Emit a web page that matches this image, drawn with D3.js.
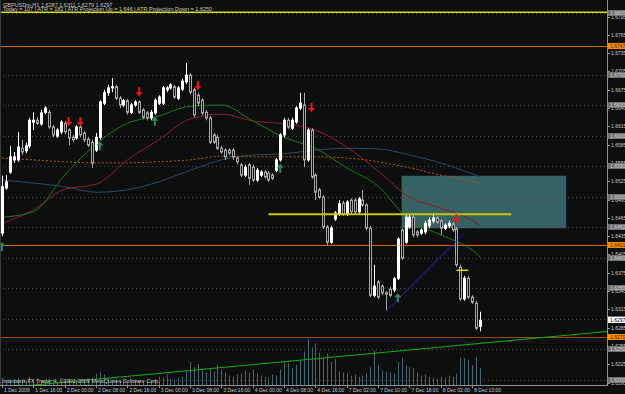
<!DOCTYPE html>
<html>
<head>
<meta charset="utf-8"/>
<script src="https://d3js.org/d3.v7.min.js"></script>
<style>
    body { margin: 0; background: #0d0f0f; width: 625px; height: 394px; overflow: hidden;
           font-family: "Liberation Sans", Arial, sans-serif; }
    svg { display: block; }
    .lbl { fill: #c8c8c8; font-size: 5px; }
</style>
</head>
<body>
<svg id="chart" width="625" height="394"></svg>
<script>
// GBPUSDm H1 candles
var opens = [1.6440,1.6514,1.6540,1.6560,1.6560,1.6579,1.6575,1.6583,1.6622,1.6625,
1.6619,1.6638,1.6638,1.6614,1.6599,1.6606,1.6620,1.6609,1.6597,1.6596,
1.6614,1.6604,1.6594,1.6589,1.6576,1.6597,1.6653,1.6670,1.6678,1.6680,
1.6661,1.6650,1.6657,1.6638,1.6650,1.6655,1.6642,1.6637,1.6629,1.6637,
1.6653,1.6653,1.6675,1.6678,1.6680,1.6661,1.6676,1.6688,1.6699,1.6675,
1.6666,1.6658,1.6638,1.6629,1.6601,1.6597,1.6579,1.6576,1.6576,1.6576,
1.6563,1.6552,1.6535,1.6552,1.6548,1.6527,1.6535,1.6540,1.6538,1.6535,
1.6543,1.6560,1.6601,1.6625,1.6612,1.6622,1.6645,1.6650,1.6560,1.6609,
1.6535,1.6511,1.6499,1.6450,1.6425,1.6463,1.6471,1.6489,1.6471,1.6494,
1.6494,1.6475,1.6494,1.6486,1.6448,1.6338,1.6360,1.6353,1.6342,1.6348,
1.6347,1.6366,1.6445,1.6425,1.6450,1.6466,1.6442,1.6440,1.6442,1.6452,
1.6460,1.6465,1.6460,1.6448,1.6452,1.6455,1.6447,1.6384,1.6332,1.6366,
1.6335,1.6325,1.6287];
var highs = [1.6534,1.6535,1.6583,1.6573,1.6606,1.6593,1.6588,1.6629,1.6638,1.6630,
1.6642,1.6648,1.6642,1.6617,1.6612,1.6625,1.6624,1.6612,1.6601,1.6617,
1.6617,1.6607,1.6597,1.6593,1.6604,1.6658,1.6675,1.6683,1.6694,1.6683,
1.6665,1.6660,1.6660,1.6653,1.6658,1.6658,1.6645,1.6640,1.6642,1.6661,
1.6666,1.6681,1.6681,1.6686,1.6683,1.6681,1.6693,1.6719,1.6702,1.6678,
1.6670,1.6661,1.6642,1.6632,1.6604,1.6601,1.6583,1.6579,1.6579,1.6579,
1.6566,1.6555,1.6552,1.6555,1.6552,1.6547,1.6543,1.6543,1.6542,1.6538,
1.6563,1.6604,1.6629,1.6629,1.6629,1.6648,1.6670,1.6670,1.6612,1.6612,
1.6538,1.6514,1.6502,1.6453,1.6452,1.6476,1.6494,1.6493,1.6494,1.6497,
1.6497,1.6499,1.6511,1.6489,1.6452,1.6388,1.6363,1.6356,1.6345,1.6352,
1.6368,1.6433,1.6448,1.6470,1.6470,1.6470,1.6445,1.6448,1.6460,1.6466,
1.6473,1.6468,1.6463,1.6456,1.6460,1.6458,1.6450,1.6388,1.6370,1.6370,
1.6338,1.6329,1.6311];
var lows = [1.6435,1.6511,1.6537,1.6555,1.6557,1.6568,1.6571,1.6579,1.6609,1.6617,
1.6616,1.6635,1.6611,1.6597,1.6596,1.6602,1.6602,1.6584,1.6589,1.6593,
1.6597,1.6589,1.6581,1.6547,1.6573,1.6593,1.6650,1.6665,1.6671,1.6658,
1.6645,1.6647,1.6634,1.6635,1.6647,1.6635,1.6627,1.6625,1.6625,1.6634,
1.6650,1.6650,1.6671,1.6675,1.6660,1.6658,1.6673,1.6684,1.6668,1.6630,
1.6648,1.6634,1.6625,1.6586,1.6586,1.6576,1.6570,1.6560,1.6568,1.6560,
1.6553,1.6532,1.6532,1.6519,1.6524,1.6524,1.6532,1.6529,1.6524,1.6527,
1.6540,1.6557,1.6597,1.6611,1.6609,1.6619,1.6642,1.6548,1.6557,1.6529,
1.6494,1.6496,1.6447,1.6420,1.6422,1.6460,1.6468,1.6468,1.6468,1.6471,
1.6471,1.6471,1.6483,1.6445,1.6335,1.6335,1.6332,1.6338,1.6314,1.6335,
1.6343,1.6363,1.6396,1.6422,1.6447,1.6433,1.6433,1.6437,1.6438,1.6448,
1.6456,1.6455,1.6437,1.6445,1.6448,1.6442,1.6384,1.6329,1.6329,1.6332,
1.6324,1.6281,1.6279];
var closes = [1.6516,1.6524,1.6565,1.6565,1.6581,1.6573,1.6583,1.6625,1.6625,1.6620,
1.6637,1.6645,1.6614,1.6601,1.6609,1.6622,1.6606,1.6596,1.6593,1.6614,
1.6601,1.6593,1.6584,1.6555,1.6597,1.6655,1.6670,1.6678,1.6680,1.6661,
1.6650,1.6657,1.6638,1.6650,1.6655,1.6638,1.6630,1.6629,1.6638,1.6658,
1.6663,1.6678,1.6678,1.6683,1.6663,1.6678,1.6689,1.6699,1.6671,1.6634,
1.6653,1.6637,1.6629,1.6589,1.6589,1.6579,1.6573,1.6565,1.6571,1.6565,
1.6557,1.6535,1.6548,1.6530,1.6527,1.6543,1.6540,1.6532,1.6527,1.6530,
1.6560,1.6601,1.6625,1.6614,1.6625,1.6645,1.6653,1.6560,1.6609,1.6532,
1.6507,1.6499,1.6450,1.6425,1.6448,1.6473,1.6488,1.6471,1.6491,1.6475,
1.6475,1.6496,1.6486,1.6448,1.6338,1.6353,1.6335,1.6342,1.6340,1.6338,
1.6365,1.6430,1.6399,1.6466,1.6466,1.6437,1.6437,1.6445,1.6456,1.6461,
1.6465,1.6458,1.6448,1.6453,1.6456,1.6445,1.6388,1.6332,1.6366,1.6335,
1.6327,1.6284,1.6297];
var volumes = [700,500,600,400,700,500,400,800,600,400,500,
400,600,500,300,400,500,600,400,300,500,400,600,
700,1100,1300,1000,700,500,600,400,500,300,400,500,400,
300,400,500,600,800,700,1000,600,500,700,800,
1300,2200,1700,2000,1400,1200,1600,1300,1900,1500,
1200,900,800,1000,1100,1400,1200,1500,1100,900,800,700,1000,900,
1500,2300,2100,1600,1900,2400,3200,4400,3600,4000,3100,2600,3000,2200,2500,
1300,1200,1100,900,1000,800,900,1100,1700,3300,1900,1400,1300,1200,1100,
2200,2600,1900,1700,1600,
1200,900,1000,800,700,600,800,700,900,800,1100,
2600,2600,2400,1900,2700,1600];

// moving averages, sampled every 8 bars
var maIdx    = [0, 8, 16, 24, 32, 40, 48, 56, 64, 72, 80, 88, 96, 104, 112, 120, 122];
var maGreen  = [1.6466,1.6475,1.6535,1.6586,1.6620,1.6632,1.6648,1.6650,1.6624,1.6597,1.6579,1.6547,1.6517,1.6461,1.6437,1.6412,1.6401];
var maRed    = [1.6456,1.6478,1.6512,1.6520,1.6560,1.6593,1.6627,1.6635,1.6624,1.6619,1.6609,1.6581,1.6542,1.6499,1.6481,1.6461,1.6453];
var maBlue   = [1.6527,1.6522,1.6516,1.6507,1.6511,1.6524,1.6543,1.6560,1.6568,1.6570,1.6576,1.6579,1.6578,1.6568,1.6555,1.6537,1.6532];
var maOrange = [1.6563,1.6560,1.6557,1.6555,1.6555,1.6557,1.6560,1.6566,1.6565,1.6565,1.6565,1.6563,1.6557,1.6547,1.6535,1.6525,1.6522];

var timeIdx = [0, 8, 16, 24, 32, 40, 48, 56, 64, 72, 80, 88, 96, 104, 112, 120];
var timeLabels = ["1 Dec 2009","1 Dec 16:00","2 Dec 00:00","2 Dec 08:00","2 Dec 16:00","3 Dec 00:00",
    "3 Dec 08:00","3 Dec 16:00","4 Dec 00:00","4 Dec 08:00","4 Dec 16:00","7 Dec 02:00",
    "7 Dec 10:00","7 Dec 18:00","8 Dec 02:00","8 Dec 10:00"];
var priceTicks = [1.6795,1.6765,1.6735,1.6705,1.6675,1.6645,1.6615,1.6585,1.6555,1.6525,1.6495,
    1.6465,1.6435,1.6405,1.6375,1.6345,1.6315,1.6285,1.6255,1.6225,1.6195];
var roundLevels = [1.6800,1.6700,1.6650,1.6600,1.6550,1.6500,1.6450,1.6400,1.6350,1.6300,1.6250,1.6200];
var orangeLevels = [1.6747, 1.6421, 1.6270];
var bidPrice = 1.6297;

// arrows [bar, price]
var downArrows = [[17,1.6622],[20,1.6622],[35,1.6671],[50,1.6681],[79,1.6645],[116,1.6463]];
var upArrows   = [[0,1.6419],[25,1.6584],[39,1.6624],[71,1.6547],[101,1.6335]];

// drawn objects [bar, price]
var boxCorners  = [[102,1.6534],[144,1.6448]];
var yellowLine  = [[68,1.6471],[130,1.6471]];
var yellowShort = [[116,1.6379],[119,1.6379]];
var blueLine    = [[98,1.6312],[118,1.6440]];
var greenLine   = [[0,1.6186],[155,1.6279]];
var topYellow   = 1.6802;

var svg = d3.select("#chart");
var W = 607, B = 385;

var x = d3.scaleLinear().domain([0, 122]).range([2, 480]);
var y = d3.scaleLinear().domain([1.6700, 1.6200]).range([74.5, 379.5]);
var v = d3.scaleLinear().domain([0, 4500]).range([B, 338]);

svg.append("rect").attr("width", 625).attr("height", 394).attr("fill", "#0d0f0f");

svg.append("clipPath").attr("id", "plot").append("rect").attr("width", W).attr("height", B);
var g = svg.append("g").attr("clip-path", "url(#plot)");

// teal box
g.append("rect")
    .attr("x", x(boxCorners[0][0])).attr("y", y(boxCorners[0][1]))
    .attr("width", x(boxCorners[1][0]) - x(boxCorners[0][0]))
    .attr("height", y(boxCorners[1][1]) - y(boxCorners[0][1]))
    .attr("fill", "#356262");

// dotted round levels
g.selectAll("line.lvl").data(roundLevels).enter().append("line")
    .attr("x1", 0).attr("x2", W).attr("y1", d => Math.round(y(d)) + 0.5).attr("y2", d => Math.round(y(d)) + 0.5)
    .attr("stroke", "#4a4a4a").attr("stroke-width", 1).attr("stroke-dasharray", "1,3");

// volumes
g.selectAll("line.vol").data(volumes).enter().append("line")
    .attr("x1", (d, i) => Math.round(x(i)) + 0.5).attr("x2", (d, i) => Math.round(x(i)) + 0.5)
    .attr("y1", B).attr("y2", d => v(d))
    .attr("stroke", "#46656a").attr("stroke-width", 1);

// moving averages
function maLine(vals) {
    return d3.line().x((d, i) => x(maIdx[i])).y(d => y(d)).curve(d3.curveMonotoneX)(vals);
}
g.append("path").attr("d", maLine(maBlue)).attr("fill", "none").attr("stroke", "#2c4a60").attr("stroke-width", 1);
g.append("path").attr("d", maLine(maOrange)).attr("fill", "none").attr("stroke", "#b05a08").attr("stroke-width", 1).attr("stroke-dasharray", "2,2");
g.append("path").attr("d", maLine(maRed)).attr("fill", "none").attr("stroke", "#8e1c2c").attr("stroke-width", 1);
g.append("path").attr("d", maLine(maGreen)).attr("fill", "none").attr("stroke", "#1d7a1d").attr("stroke-width", 1);

// horizontal lines
g.append("line").attr("x1", 0).attr("x2", W).attr("y1", y(topYellow)).attr("y2", y(topYellow))
    .attr("stroke", "#d8d800").attr("stroke-width", 1.5);
g.selectAll("line.or").data(orangeLevels).enter().append("line")
    .attr("x1", 0).attr("x2", W).attr("y1", d => Math.round(y(d)) + 0.5).attr("y2", d => Math.round(y(d)) + 0.5)
    .attr("stroke", (d, i) => i == 2 ? "#9a4a10" : "#d06800").attr("stroke-width", 1);

// candles
var idx = d3.range(opens.length);
g.selectAll("line.wick").data(idx).enter().append("line")
    .attr("x1", i => Math.round(x(i)) + 0.5).attr("x2", i => Math.round(x(i)) + 0.5)
    .attr("y1", i => y(highs[i])).attr("y2", i => y(lows[i]))
    .attr("stroke", i => closes[i] >= opens[i] ? "#ffffff" : "#a8a8a8");
g.selectAll("rect.body").data(idx).enter().append("rect")
    .attr("x", i => Math.round(x(i)) - 0.5)
    .attr("y", i => y(Math.max(opens[i], closes[i])))
    .attr("width", 2)
    .attr("height", i => Math.max(1, Math.abs(y(opens[i]) - y(closes[i]))))
    .attr("fill", i => closes[i] >= opens[i] ? "#ffffff" : "#0d0f0f")
    .attr("stroke", i => closes[i] >= opens[i] ? "#ffffff" : "#a8a8a8")
    .attr("stroke-width", 1);

// trendlines
function seg(pts, color, w) {
    g.append("line").attr("x1", x(pts[0][0])).attr("y1", y(pts[0][1]))
        .attr("x2", x(pts[1][0])).attr("y2", y(pts[1][1]))
        .attr("stroke", color).attr("stroke-width", w);
}
seg(yellowLine, "#c8c800", 2);
seg(yellowShort, "#e0e000", 1.5);
seg(blueLine, "#1818e0", 1);
seg(greenLine, "#10b010", 1);

// arrows
function arrowPath(cx, cy, dir) {
    var s = dir;  // 1 = down, -1 = up
    return "M" + (cx - 1) + "," + (cy - 5 * s) + "L" + (cx + 1) + "," + (cy - 5 * s) +
        "L" + (cx + 1) + "," + cy + "L" + (cx + 3.5) + "," + cy + "L" + cx + "," + (cy + 4 * s) +
        "L" + (cx - 3.5) + "," + cy + "L" + (cx - 1) + "," + cy + "Z";
}
g.selectAll("path.dn").data(downArrows).enter().append("path")
    .attr("d", d => arrowPath(x(d[0]), y(d[1]), 1)).attr("fill", "#ff1010");
g.selectAll("path.up").data(upArrows).enter().append("path")
    .attr("d", d => arrowPath(x(d[0]), y(d[1]), -1)).attr("fill", "#2e8b57");

// frame
svg.append("line").attr("x1", W + 0.5).attr("x2", W + 0.5).attr("y1", 0).attr("y2", B + 1).attr("stroke", "#909090");
svg.append("line").attr("x1", 0).attr("x2", W + 1).attr("y1", B + 0.5).attr("y2", B + 0.5).attr("stroke", "#909090");
svg.append("line").attr("x1", 0.5).attr("x2", 0.5).attr("y1", 0).attr("y2", B).attr("stroke", "#3a3a3a");

// price axis
svg.selectAll("line.pt").data(priceTicks).enter().append("line")
    .attr("x1", W).attr("x2", W + 3).attr("y1", d => Math.round(y(d)) + 0.5).attr("y2", d => Math.round(y(d)) + 0.5)
    .attr("stroke", "#909090");
svg.selectAll("text.pt").data(priceTicks).enter().append("text").attr("class", "lbl")
    .attr("x", W + 4).attr("y", d => y(d) + 2).text(d => d.toFixed(4));

function tag(p, fill, color) {
    var yy = Math.round(y(p));
    svg.append("rect").attr("x", W + 1).attr("y", yy - 3).attr("width", 17).attr("height", 6).attr("fill", fill);
    svg.append("text").attr("class", "lbl").attr("x", W + 3).attr("y", yy + 2)
        .style("fill", color).text(p.toFixed(4));
}
roundLevels.forEach(p => tag(p, "#6f6f6f", "#d8d8d8"));
orangeLevels.forEach(p => tag(p, "#ff8c00", "#202020"));
tag(bidPrice, "#ffffff", "#000000");

// time axis
svg.selectAll("line.tt").data(timeIdx).enter().append("line")
    .attr("x1", d => Math.round(x(d)) + 0.5).attr("x2", d => Math.round(x(d)) + 0.5)
    .attr("y1", B).attr("y2", B + 3).attr("stroke", "#909090");
svg.selectAll("text.tt").data(timeIdx).enter().append("text").attr("class", "lbl")
    .attr("x", d => x(d) + 2).attr("y", B + 7).text((d, i) => timeLabels[i]);

// header and footer
svg.append("text").attr("class", "lbl").attr("x", 3).attr("y", 6.5).style("font-size", "5.5px")
    .text("GBPUSDm,H1  1.6287 1.6311 1.6279 1.6297");
svg.append("text").attr("class", "lbl").attr("x", 3).attr("y", 11).style("font-size", "5.5px")
    .text("Today = 107   |   ATR = 182   |   ATR Projection Up = 1.646   |   ATR Projection Down = 1.6250");
svg.append("text").attr("class", "lbl").attr("x", 3).attr("y", 383).style("font-size", "5.5px")
    .text("Interbank FX Trader 4, \u00a92001-2009 MetaQuotes Software Corp.");
</script>
</body>
</html>
